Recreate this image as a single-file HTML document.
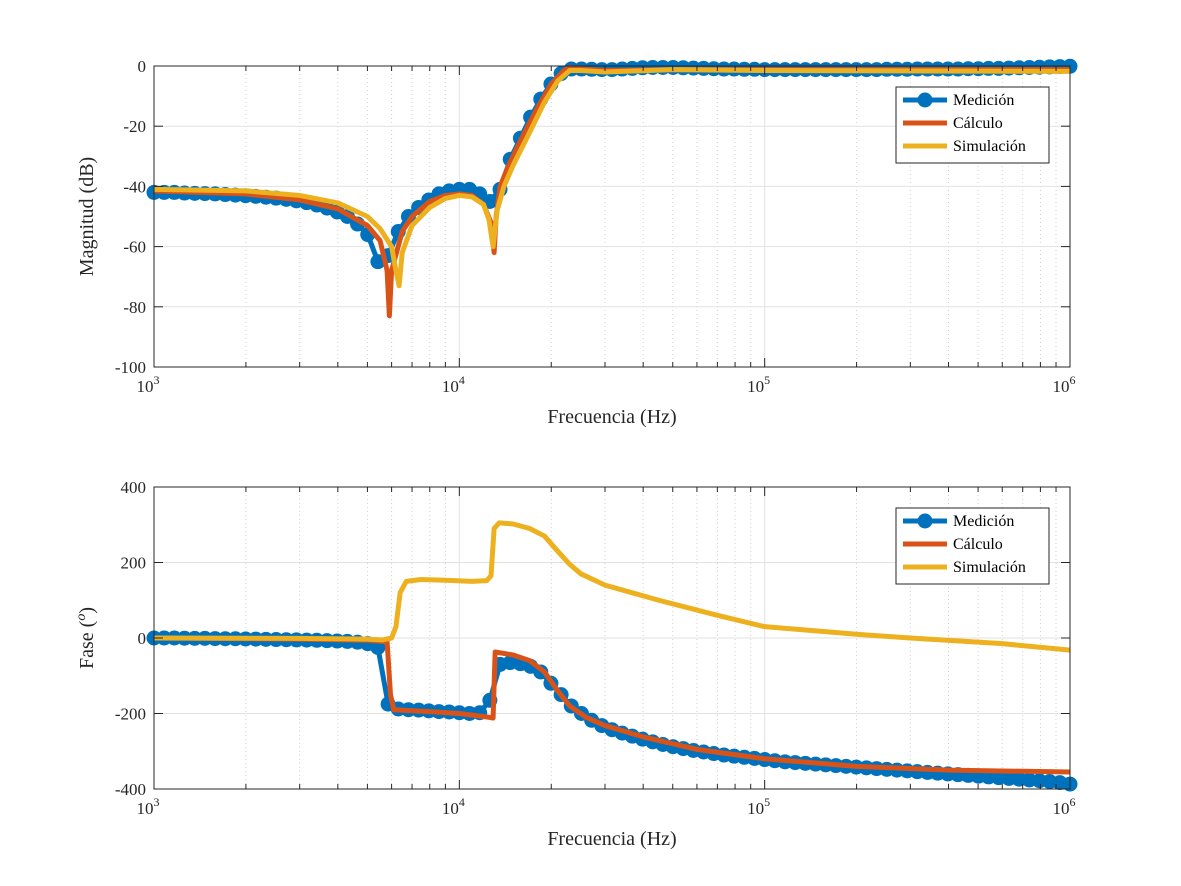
<!DOCTYPE html>
<html><head><meta charset="utf-8">
<style>
body{margin:0;background:#fff}
svg{display:block;font-family:"Liberation Serif",serif}
</style></head>
<body>
<svg id="chart" width="1181" height="886" viewBox="0 0 1181 886"></svg>
<script>
// ---- data ----
const measExp0 = 3, measStep = 1/30; // measurement frequency grid (log10 Hz)
const measMag = [-42,-42,-42,-42.2,-42.3,-42.4,-42.5,-42.7,-42.9,-43.1,-43.3,-43.6,-43.9,-44.3,-44.8,-45.4,-46.2,-47.2,-48.5,-50,-52.5,-56,-65,-63,-55,-50,-47,-44.5,-42.5,-41.5,-41,-41,-42.5,-45,-41,-31,-24,-17,-11,-6,-2.5,-1,-1,-1.1,-1.2,-1.2,-1,-0.8,-0.6,-0.5,-0.5,-0.5,-0.6,-0.7,-0.8,-0.9,-1,-1,-1.1,-1.1,-1.2,-1.2,-1.2,-1.2,-1.2,-1.2,-1.2,-1.2,-1.2,-1.2,-1.2,-1.2,-1.1,-1.1,-1.1,-1,-1,-1,-1,-1,-0.9,-0.9,-0.8,-0.8,-0.7,-0.6,-0.5,-0.4,-0.3,-0.2,-0.1];
const measPhase = [0,0,0,-0.5,-1,-1,-1.5,-2,-2,-2.5,-3,-3.5,-4,-4.5,-5,-5.5,-6,-7,-8,-9,-11,-15,-25,-175,-188,-190,-191,-193,-195,-196,-198,-200,-198,-165,-70,-65,-68,-75,-90,-120,-150,-180,-200,-218,-232,-243,-252,-260,-268,-275,-282,-288,-293,-298,-302,-306,-310,-313,-316,-319,-322,-325,-328,-330,-332,-334,-336,-338,-340,-342,-344,-346,-348,-350,-352,-354,-356,-358,-360,-362,-364,-366,-368,-370,-372,-374,-376,-378,-380,-383,-387];
const calcFreq = [1000,2000,3000,4000,5000,5500,5800,5900,6000,6500,7000,8000,9000,10000,11000,12000,12700,13000,13200,13600,14500,16000,18000,20000,22000,23000,25000,30000,50000,100000,300000,1000000];
const calcMag = [-41.5,-42.5,-44.5,-47.5,-53,-58,-68,-83,-68,-55,-50,-45,-43,-42.5,-43,-46,-52,-62,-50,-40,-33,-24,-14,-6,-1.5,-0.5,-1,-1.5,-1.2,-1.2,-1.2,-1.2];
const calcPhaseFreq = [1000,3000,5000,5800,5950,6100,8000,10000,12500,12900,13100,15000,17000,19000,21000,23000,26000,30000,40000,60000,100000,200000,400000,1000000];
const calcPhase = [0,-3,-6,-10,-150,-190,-195,-200,-210,-212,-37,-45,-60,-90,-140,-180,-210,-232,-262,-295,-320,-340,-350,-355];
const simFreq = [1000,2000,3000,4000,5000,5500,6000,6200,6350,6500,7000,8000,9000,10000,11000,12000,12500,12900,13300,14000,15000,17000,19000,21000,23000,25000,30000,50000,100000,1000000];
const simMag = [-41,-41.5,-43,-45.5,-50,-54,-60,-68,-73,-62,-53,-47,-44,-43,-43.5,-46,-51,-60,-48,-40,-33,-22,-12,-5,-1.5,-1.5,-2,-1.2,-1.5,-1.8];
const simPhaseFreq = [1000,3000,5000,5600,6000,6200,6400,6700,7500,9000,11000,12300,12700,13000,13500,15000,17000,19000,21000,23000,25000,30000,45000,70000,100000,200000,300000,600000,1000000];
const simPhase = [0,-1,-3,-5,0,30,120,150,155,153,150,152,165,290,305,302,290,270,230,195,170,140,100,60,30,10,0,-15,-32];
const magTicks = [0,-20,-40,-60,-80,-100];
const phaseTicks = [400,200,0,-200,-400];
const decades = [3,4,5,6];

// ---- layout ----
const NS="http://www.w3.org/2000/svg";
const svg=document.getElementById('chart');
const X0=154,X1=1070;
const xs=f=>X0+(Math.log10(f)-3)*(X1-X0)/3;
const yMag=v=>66+(0-v)*(367-66)/100;
const yPh=v=>487+(400-v)*(789-487)/800;
function el(tag,attrs,parent){const e=document.createElementNS(NS,tag);for(const k in attrs)e.setAttribute(k,attrs[k]);(parent||svg).appendChild(e);return e;}
const C={m:'#0072BD',c:'#D95319',s:'#EDB120'};

function axes(name,yTop,yBot,ticks,yf,ylabel,series){
  const g=el('g',{});
  
  
  for(let d=3;d<6;d++){for(let k=2;k<10;k++){const x=xs(k*Math.pow(10,d));
    const l=el('line',{x1:x,x2:x,y1:yTop,y2:yBot,stroke:'#d0d0d0','stroke-width':1,'stroke-dasharray':'1,3'},g);
    }}
  decades.forEach(d=>{const x=xs(Math.pow(10,d));
    const l=el('line',{x1:x,x2:x,y1:yTop,y2:yBot,stroke:'#e2e2e2','stroke-width':1},g);
    });
  ticks.forEach(t=>{const y=yf(t);
    const l=el('line',{x1:X0,x2:X1,y1:y,y2:y,stroke:'#e2e2e2','stroke-width':1},g);
    });
  series(g);
  const b=el('rect',{x:X0,y:yTop,width:X1-X0,height:yBot-yTop,fill:'none',stroke:'#262626','stroke-width':1},g);
  
  ticks.forEach(t=>{const y=yf(t);
    el('line',{x1:X0,x2:X0+9,y1:y,y2:y,stroke:'#262626'},g);el('line',{x1:X1,x2:X1-9,y1:y,y2:y,stroke:'#262626'},g);
    const tx=el('text',{x:X0-8,y:y+6,'text-anchor':'end','font-size':17,fill:'#262626'},g);tx.textContent=t;
    });
  decades.forEach(d=>{const x=xs(Math.pow(10,d));
    el('line',{x1:x,x2:x,y1:yBot,y2:yBot-9,stroke:'#262626'},g);el('line',{x1:x,x2:x,y1:yTop,y2:yTop+9,stroke:'#262626'},g);
    const tx=el('text',{x:x-6,y:yBot+25,'text-anchor':'middle','font-size':17,fill:'#262626'},g);
    
    tx.appendChild(document.createTextNode('10'));
    const s=el('tspan',{dy:-8,'font-size':12},tx);s.textContent=d;});
  for(let d=3;d<6;d++)for(let k=2;k<10;k++){const x=xs(k*Math.pow(10,d));
    el('line',{x1:x,x2:x,y1:yBot,y2:yBot-5,stroke:'#262626'},g);el('line',{x1:x,x2:x,y1:yTop,y2:yTop+5,stroke:'#262626'},g);}
  const xl=el('text',{x:612,y:yBot+56,'text-anchor':'middle','font-size':20,fill:'#262626'},g);xl.textContent='Frecuencia (Hz)';
  
  const yc=(yTop+yBot)/2;
  const yl=el('text',{x:93,y:yc,'text-anchor':'middle','font-size':20,fill:'#262626',transform:`rotate(-90 93 ${yc})`},g);
  
  if(ylabel==='fase'){yl.appendChild(document.createTextNode('Fase ('));const s=el('tspan',{dy:-8,'font-size':14,'font-style':'italic'},yl);s.textContent='o';const s2=el('tspan',{dy:8},yl);s2.textContent=')';}
  else yl.textContent=ylabel;
  const ly=yTop+21;
  const lg=el('g',{},g);
  el('rect',{x:896,y:ly,width:153,height:76,fill:'#fff',stroke:'#262626','stroke-width':1},lg);
  [['Medición',C.m,true],['Cálculo',C.c,false],['Simulación',C.s,false]].forEach((e,i)=>{
    const yy=ly+13+i*23;
    const eg=el('g',{},lg);
    el('line',{x1:903,x2:947,y1:yy,y2:yy,stroke:e[1],'stroke-width':5},eg);
    if(e[2])el('circle',{cx:925,cy:yy,r:7.5,fill:e[1]},eg);
    const t=el('text',{x:953,y:yy+5,'font-size':16,fill:'#000'},eg);t.textContent=e[0];});
}

function line(g,fr,vals,yf,color,name){
  const p=el('polyline',{points:fr.map((f,i)=>xs(f)+','+yf(vals[i])).join(' '),fill:'none',stroke:color,'stroke-width':5,'stroke-linejoin':'round'},g);
  
}
function meas(g,vals,yf,name){
  const fr=vals.map((v,i)=>Math.pow(10,measExp0+i*measStep));
  line(g,fr,vals,yf,C.m,name+'-line');
  vals.forEach((v,i)=>{const c=el('circle',{cx:xs(fr[i]),cy:yf(v),r:7.5,fill:C.m},g);
    });
}

axes('magnitude-axes',66,367,magTicks,yMag,'Magnitud (dB)',g=>{
  meas(g,measMag,yMag,'measured-magnitude');
  line(g,calcFreq,calcMag,yMag,C.c,'calculated-magnitude');
  line(g,simFreq,simMag,yMag,C.s,'simulated-magnitude');
});
axes('phase-axes',487,789,phaseTicks,yPh,'fase',g=>{
  meas(g,measPhase,yPh,'measured-phase');
  line(g,calcPhaseFreq,calcPhase,yPh,C.c,'calculated-phase');
  line(g,simPhaseFreq,simPhase,yPh,C.s,'simulated-phase');
});
</script>
</body></html>
